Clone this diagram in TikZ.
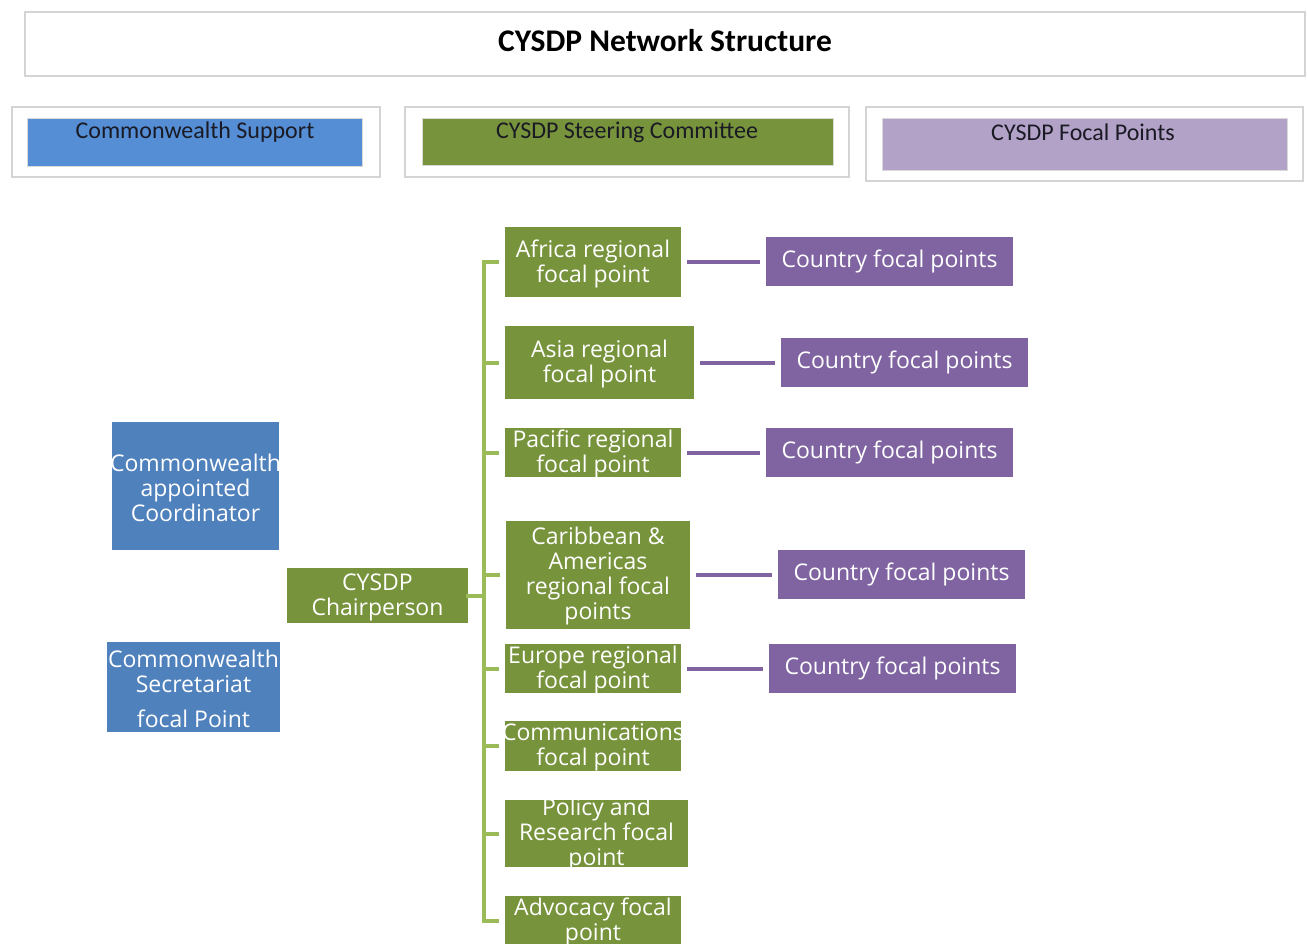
\documentclass[tikz,border=0pt]{standalone}
\usepackage{fontspec}
\setmainfont{Open Sans}
\newfontfamily\hdrfont{Carlito}
\usetikzlibrary{calc}
\definecolor{hblue}{HTML}{558ED5}
\definecolor{hgreen}{HTML}{77933C}
\definecolor{hpurple}{HTML}{B3A2C7}
\definecolor{bblue}{HTML}{4F81BD}
\definecolor{ggreen}{HTML}{77933C}
\definecolor{ppurple}{HTML}{8064A2}
\definecolor{brgreen}{HTML}{9BBB59}
\definecolor{frame}{HTML}{D4D4D4}
\definecolor{htext}{HTML}{1A1A24}
\tikzset{
  boxbase/.style={rectangle, inner sep=0pt, align=center, text=white,
    font=\fontsize{23}{25}\selectfont},
  gbox/.style={boxbase, fill=ggreen},
  bbox/.style={boxbase, fill=bblue},
  pbox/.style={boxbase, fill=ppurple},
  outerframe/.style={rectangle, draw=frame, line width=1.3pt, fill=white, inner sep=0pt},
  hdrbox/.style={rectangle, inner sep=0pt, draw=white!85!black, line width=0.6pt},
  hdrtext/.style={inner sep=0pt, text=htext, font=\hdrfont\fontsize{24}{26}\selectfont},
  pline/.style={draw=ppurple, line width=4pt, shorten <=6pt, shorten >=6pt},
  gline/.style={draw=brgreen, line width=4pt, line cap=rect},
}
\begin{document}
\begin{tikzpicture}[x=1pt,y=-1pt]
\useasboundingbox (0,0) rectangle (1307,943);
\fill[white] (0,0) rectangle (1307,943);
% title
\node[outerframe, minimum width=1280pt, minimum height=64pt] (titlebox) at (665,44) {};
\node[inner sep=0pt, font=\hdrfont\bfseries\fontsize{31.5}{33}\selectfont, text=black] (title) at (665,41) {CYSDP Network Structure};
% headers
\node[outerframe, minimum width=368pt, minimum height=70pt] (h1o) at (196,142) {};
\node[hdrbox, fill=hblue, minimum width=335pt, minimum height=48pt] (h1) at (194.5,142) {};
\node[hdrtext] (h1t) at (195,132) {Commonwealth Support};
\node[outerframe, minimum width=444pt, minimum height=70pt] (h2o) at (627,142) {};
\node[hdrbox, fill=hgreen, minimum width=411pt, minimum height=47pt] (h2) at (627.5,141.5) {};
\node[hdrtext] (h2t) at (627,132) {CYSDP Steering Committee};
\node[outerframe, minimum width=437pt, minimum height=74pt] (h3o) at (1084.5,144) {};
\node[hdrbox, fill=hpurple, minimum width=405pt, minimum height=52pt] (h3) at (1084.5,144) {};
\node[hdrtext] (h3t) at (1083,132) {CYSDP Focal Points};
% left blue boxes
\node[bbox, minimum width=167pt, minimum height=128pt] (coord) at (195.5,486) {};
\node[boxbase] (coordt) at (195.5,487.5) {Commonwealth\\appointed\\Coordinator};
\node[bbox, minimum width=173pt, minimum height=90pt] (secr) at (193.5,687) {};
\node[boxbase] (secrt) at (193.5,688.5) {Commonwealth\\Secretariat\\[10pt]focal Point};
% chair
\node[gbox, minimum width=181pt, minimum height=55pt] (chair) at (377.5,595.5) {};
\node[boxbase] (chairt) at (377.5,597) {CYSDP\\Chairperson};
% green boxes
\node[gbox, minimum width=176pt, minimum height=70pt] (africa) at (593,262) {};
\node[boxbase] (africat) at (593,263.5) {Africa regional\\focal point};
\node[gbox, minimum width=189pt, minimum height=73pt] (asia) at (599.5,362.5) {};
\node[boxbase] (asiat) at (599.5,364) {Asia regional\\focal point};
\node[gbox, minimum width=176pt, minimum height=49pt] (pacific) at (593,452.5) {};
\node[boxbase] (pacifict) at (593,454) {Pacific regional\\focal point};
\node[gbox, minimum width=184pt, minimum height=108pt] (carib) at (598,575) {};
\node[boxbase] (caribt) at (598,576.5) {Caribbean \&\\Americas\\regional focal\\points};
\node[gbox, minimum width=176pt, minimum height=49pt] (europe) at (593,668.5) {};
\node[boxbase] (europet) at (593,670) {Europe regional\\focal point};
\node[gbox, minimum width=176pt, minimum height=50pt] (comm) at (593,746) {};
\node[boxbase] (commt) at (593,747.5) {Communications\\focal point};
\node[gbox, minimum width=183pt, minimum height=67pt] (policy) at (596.5,833.5) {};
\node[boxbase] (policyt) at (596.5,834.5) {Policy and\\Research focal\\point};
\node[gbox, minimum width=176pt, minimum height=50pt] (advoc) at (593,920.5) {};
\node[boxbase] (advoct) at (593,922) {Advocacy focal\\point};
% purple boxes
\node[pbox, minimum width=247pt, minimum height=49pt] (cfp1) at (889.5,261.5) {Country focal points};
\node[pbox, minimum width=247pt, minimum height=49pt] (cfp2) at (904.5,362.5) {Country focal points};
\node[pbox, minimum width=247pt, minimum height=49pt] (cfp3) at (889.5,452.5) {Country focal points};
\node[pbox, minimum width=247pt, minimum height=49pt] (cfp4) at (901.5,574.5) {Country focal points};
\node[pbox, minimum width=247pt, minimum height=49pt] (cfp5) at (892.5,668.5) {Country focal points};
% purple connectors
\draw[pline] (africa.east) -- (cfp1.west |- africa.east);
\draw[pline] (asia.east) -- (cfp2.west |- asia.east);
\draw[pline] (pacific.east) -- (cfp3.west |- pacific.east);
\draw[pline] (carib.east) -- (cfp4.west |- carib.east);
\draw[pline] (europe.east) -- (cfp5.west |- europe.east);
% bracket
\coordinate (spinetop) at (484,262);
\coordinate (spinebot) at (484,919);
\draw[gline] (spinetop) -- (spinebot);
\draw[gline] (chair.east) -- (chair.east -| spinetop);
\foreach \n in {africa,asia,pacific,carib,europe,comm,policy,advoc}{
  \draw[gline] (\n.west -| spinetop) -- ([xshift=-8pt]\n.west);
}
\end{tikzpicture}
\end{document}
